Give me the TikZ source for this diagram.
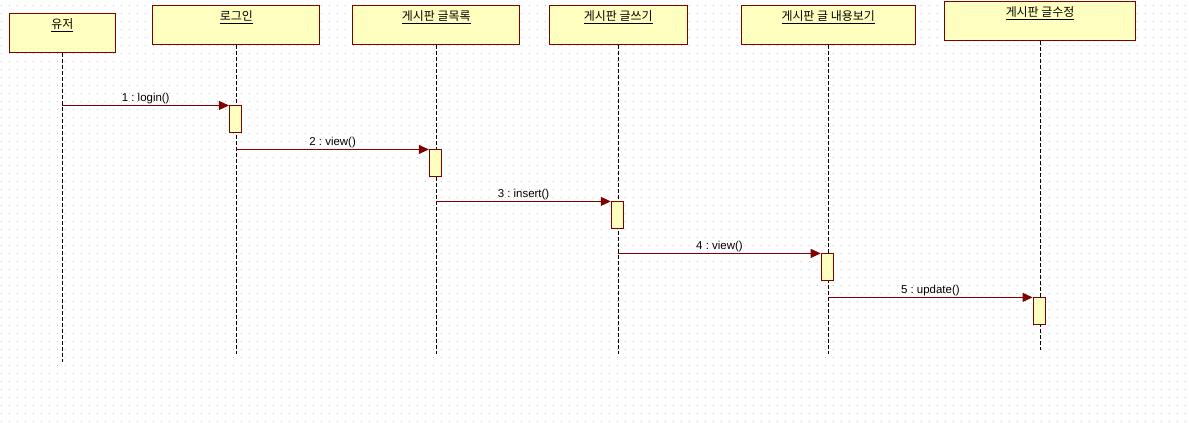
\documentclass[tikz,border=0pt]{standalone}
\usepackage{fontspec}
\setmainfont{Liberation Sans}
\newfontfamily\kr{Noto Sans CJK KR}
\usepackage{xcolor}
\usetikzlibrary{arrows.meta,positioning,calc}
\definecolor{Canvas}{HTML}{FFFFFF}
\definecolor{GridDot}{HTML}{C4C4C4}
\definecolor{Maroon}{HTML}{800000}
\definecolor{NoteFill}{HTML}{FFFFC0}
\definecolor{Ink}{HTML}{000000}
\newcommand{\headtxt}[1]{\underline{\hbox{\kr #1}}}
\frenchspacing

\begin{document}
\begin{tikzpicture}[x=1bp,y=-1bp,shift={(0.5,0.5)},>=Stealth,head/.style={draw=Maroon,fill=NoteFill,line width=1bp,inner xsep=0pt,inner ysep=0pt,text height=15.5bp,text depth=23.5bp,text=Ink,font=\fontsize{12}{14}\selectfont},life/.style={draw=Ink,line width=1bp,dash pattern=on 4bp off 2bp},bar/.style={draw=Maroon,fill=NoteFill,line width=1bp,minimum width=12bp,minimum height=27bp,inner sep=0pt,anchor=north},msg/.style={-{Triangle[length=10bp,width=9bp]},draw=Maroon,line width=1bp},lbl/.style={midway,above,inner sep=1.5bp,text=Ink,font=\fontsize{11.5}{13}\selectfont}]
\fill[Canvas] (-0.5,-0.5) rectangle (1188.5,422.5);\foreach \r in {0,...,52}{\draw[GridDot,line width=1bp,dash pattern=on 1bp off 7bp] (0.5,5+8*\r)--(1188.5,5+8*\r);}
\useasboundingbox (-0.5,-0.5) rectangle (1188.5,422.5);
% lifeline heads
\node[head,minimum width=106bp] (user) at (62,32.5) {\headtxt{유저}};\node[head,minimum width=167bp] (login) at (236,24.5) {\headtxt{로그인}};\node[head,minimum width=167bp] (boardList) at (436,24.5) {\headtxt{게시판 글목록}};
\node[head,minimum width=138bp] (boardWrite) at (618,24.5) {\headtxt{게시판 글쓰기}};\node[head,minimum width=174bp] (boardView) at (828,24.5) {\headtxt{게시판 글 내용보기}};\node[head,minimum width=191bp] (boardEdit) at (1040,20.5) {\headtxt{게시판 글수정}};
\coordinate (userEnd) at (62,362);\coordinate (loginEnd) at (236,354);\coordinate (listEnd) at (436,354);\coordinate (writeEnd) at (618,354);\coordinate (viewEnd) at (828,354);\coordinate (editEnd) at (1040,350);
\draw[life] (user)--(userEnd);\draw[life] (login)--(loginEnd);\draw[life] (boardList)--(listEnd);\draw[life] (boardWrite)--(writeEnd);\draw[life] (boardView)--(viewEnd);\draw[life] (boardEdit)--(editEnd);
% activations
\node[bar] (act1) at (235,105) {};\node[bar] (act2) at (435,149) {};\node[bar] (act3) at (617,201) {};\node[bar] (act4) at (827,253) {};\node[bar] (act5) at (1039,297) {};
\coordinate (m1) at (62,105);\coordinate (m2) at (236,149);\coordinate (m3) at (436,201);\coordinate (m4) at (618,253);\coordinate (m5) at (828,297);
\draw[msg] (m1)--(act1.north west) node[lbl] {1 : login()};\draw[msg] (m2)--(act2.north west) node[lbl] {2 : view()};\draw[msg] (m3)--(act3.north west) node[lbl] {3 : insert()};
\draw[msg] (m4)--(act4.north west) node[lbl] {4 : view()};\draw[msg] (m5)--(act5.north west) node[lbl] {5 : update()};
\end{tikzpicture}
\end{document}
